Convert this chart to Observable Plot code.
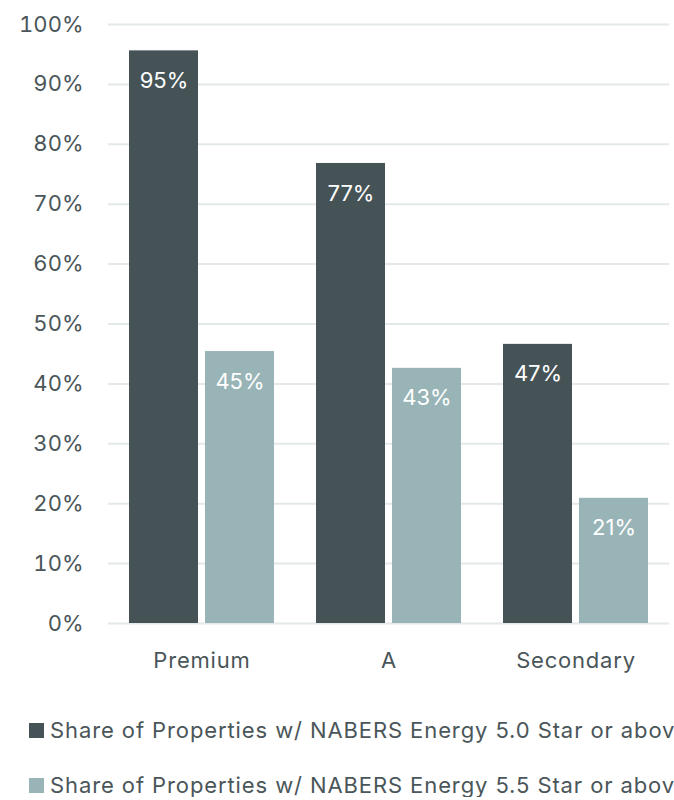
<!DOCTYPE html>
<html>
<head>
<meta charset="utf-8">
<script src="https://cdn.jsdelivr.net/npm/d3@7"></script>
<script src="https://cdn.jsdelivr.net/npm/@observablehq/plot@0.6"></script>
<style>
  html, body { margin: 0; padding: 0; background: #fff; overflow: hidden; width: 674px; }
  body { font-family: "Inter", "Roboto", sans-serif; color: #4a5659; }
  #chart svg { display: block; }
  .legend { white-space: nowrap; font-size: 22px; color: #4a5659; letter-spacing: 0.9px; }
  .legend .row { display: flex; align-items: center; height: 24px; position: relative; }
  .legend .sw { display: inline-block; width: 15px; height: 15px; margin-left: 29px; margin-right: 6px; flex: none; }
</style>
</head>
<body>
<div id="chart"></div>
<div class="legend" id="legend"></div>
<script>
const categories = ["Premium", "A", "Secondary"];
const seriesNames = [
  "Share of Properties w/ NABERS Energy 5.0 Star or above",
  "Share of Properties w/ NABERS Energy 5.5 Star or above"
];
const star50 = [95.6, 76.8, 46.6];
const star55 = [45.4, 42.6, 20.9];
const labels50 = ["95%", "77%", "47%"];
const labels55 = ["45%", "43%", "21%"];
const yTicks = [0, 10, 20, 30, 40, 50, 60, 70, 80, 90, 100];
const colors = ["#455357", "#98b4b6"];

const data = [];
categories.forEach((c, i) => {
  data.push({category: c, series: seriesNames[0], value: star50[i], label: labels50[i]});
  data.push({category: c, series: seriesNames[1], value: star55[i], label: labels55[i]});
});

const chart = Plot.plot({
  width: 674,
  height: 690,
  marginTop: 24,
  marginLeft: 107,
  marginRight: 4,
  marginBottom: 67,
  style: {fontFamily: "Inter, Roboto, sans-serif", fontSize: "22px", color: "#4a5659", background: "#fff"},
  fx: {domain: categories, padding: 0, label: null, axis: "bottom", tickSize: 0, tickPadding: 29},
  x: {domain: seriesNames, paddingInner: 0.091, paddingOuter: 0.264, axis: null},
  y: {domain: [0, 100], ticks: yTicks, label: null},
  color: {domain: seriesNames, range: colors},
  marks: [
    Plot.gridY(yTicks, {stroke: "#e3e8e8", strokeOpacity: 1, strokeWidth: 2}),
    Plot.axisY(yTicks, {tickSize: 0, tickPadding: 25, tickFormat: d => d + "%", label: null, fontSize: 22, fill: "#4a5659"}),
    Plot.barY(data, {fx: "category", x: "series", y: "value", fill: "series"}),
    Plot.text(data, {fx: "category", x: "series", y: "value", text: "label", fill: "#ffffff", dy: 30, fontSize: 22})
  ]
});
document.getElementById("chart").appendChild(chart);
chart.querySelectorAll("[aria-label='fx-axis tick label'] text").forEach(t => t.style.letterSpacing = "0.8px");

const legend = document.getElementById("legend");
seriesNames.forEach((s, i) => {
  const row = document.createElement("div");
  row.className = "row";
  row.style.marginTop = i === 0 ? "28px" : "31px";
  const sw = document.createElement("span");
  sw.className = "sw";
  sw.style.background = colors[i];
  const t = document.createElement("span");
  t.textContent = s;
  row.appendChild(sw);
  row.appendChild(t);
  legend.appendChild(row);
});
</script>
</body>
</html>
